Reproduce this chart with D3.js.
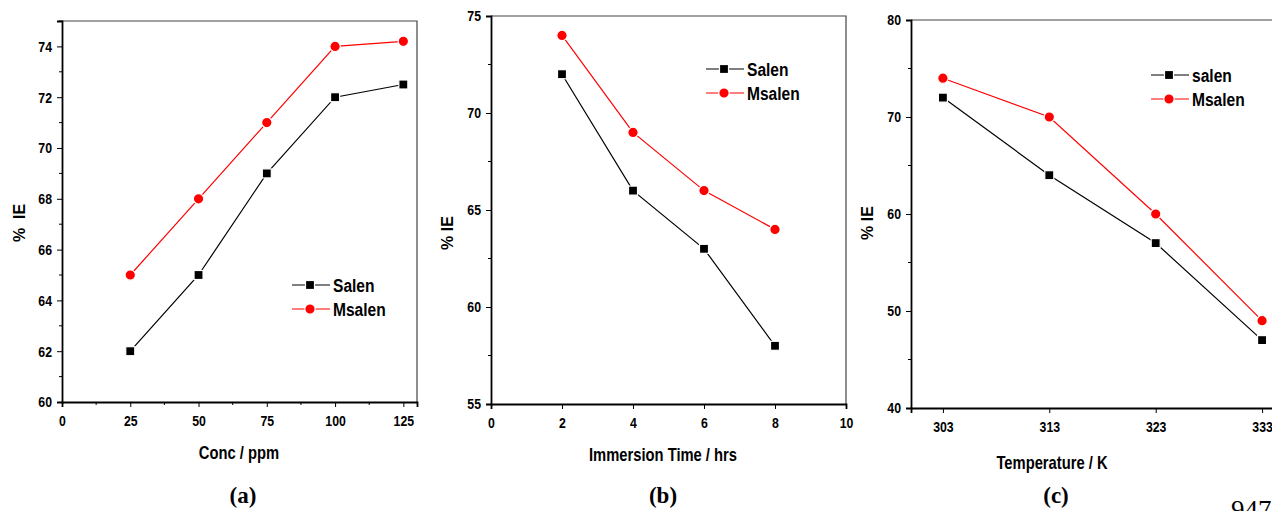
<!DOCTYPE html>
<html>
<head>
	<meta charset="utf-8">
	<title>% IE panels</title>
	<script src="https://d3js.org/d3.v7.min.js"></script>
	<style>
		body { margin: 0; background: #fff; }
		svg { display: block; }
		.narrow { font-family: "Liberation Sans", Arial, sans-serif; font-weight: bold; }
		.panel-label { font-family: "Liberation Serif", "Times New Roman", serif; font-weight: bold; }
	</style>
</head>
<body>
	<script>
		// panel (a) - concentration
		var concX = [25, 50, 75, 100, 125];
		var concSalen = [62, 65, 69, 72, 72.5];
		var concMsalen = [65, 68, 71, 74, 74.2];

		// panel (b) - immersion time
		var timeX = [2, 4, 6, 8];
		var timeSalen = [72, 66, 63, 58];
		var timeMsalen = [74, 69, 66, 64];

		// panel (c) - temperature
		var tempX = [303, 313, 323, 333];
		var tempSalen = [72, 64, 57, 47];
		var tempMsalen = [74, 70, 60, 49];

		var width = 1272, height = 511;
		var squeeze = 0.82; // no narrow font installed, so squash Liberation Sans
		var svg = d3.select("body").append("svg").attr("width", width).attr("height", height);

		var panels = [
			{x: concX, s1: concSalen, s2: concMsalen, names: ["Salen", "Msalen"],
			 xDom: [0, 130], yDom: [60, 75], left: 62, right: 417, top: 21, bottom: 402,
			 xTicks: [0, 25, 50, 75, 100, 125], xMinor: [12.5, 37.5, 62.5, 87.5, 112.5],
			 yTicks: [60, 62, 64, 66, 68, 70, 72, 74], yMinor: [61, 63, 65, 67, 69, 71, 73, 75],
			 xTitle: "Conc / ppm", yTitle: "%  IE", label: "(a)",
			 leg: [292, 285], titleX: 239, titleY: 459, yTitleX: 25, yTitleY: 223, labelX: 243},
			{x: timeX, s1: timeSalen, s2: timeMsalen, names: ["Salen", "Msalen"],
			 xDom: [0, 10], yDom: [55, 75], left: 491, right: 846, top: 16, bottom: 404,
			 xTicks: [0, 2, 4, 6, 8, 10], xMinor: [],
			 yTicks: [55, 60, 65, 70, 75], yMinor: [57.5, 62.5, 67.5, 72.5],
			 xTitle: "Immersion Time / hrs", yTitle: "% IE", label: "(b)",
			 leg: [706, 69], titleX: 663, titleY: 461, yTitleX: 453, yTitleY: 233, labelX: 663},
			{x: tempX, s1: tempSalen, s2: tempMsalen, names: ["salen", "Msalen"],
			 xDom: [300, 336], yDom: [40, 80], left: 911, right: 1294, top: 20, bottom: 408,
			 xTicks: [303, 313, 323, 333], xMinor: [],
			 yTicks: [40, 50, 60, 70, 80], yMinor: [45, 55, 65, 75],
			 xTitle: "Temperature / K", yTitle: "% IE", label: "(c)",
			 leg: [1151, 75], titleX: 1052, titleY: 469, yTitleX: 873, yTitleY: 223, labelX: 1056}
		];

		// narrow bold text at (x,y)
		function narrow(sel, x, y, size, txt) {
			return sel.append("text").attr("class", "narrow")
				.attr("transform", "translate(" + x + "," + y + ") scale(" + squeeze + ",1)")
				.style("font-size", size + "px").text(txt);
		}

		panels.forEach(function(p) {
			var x = d3.scaleLinear().domain(p.xDom).range([p.left, p.right]);
			var y = d3.scaleLinear().domain(p.yDom).range([p.bottom, p.top]);
			var g = svg.append("g");

			// frame top / right
			g.append("path")
				.attr("d", "M" + p.left + "," + p.top + "H" + p.right + "V" + p.bottom)
				.attr("fill", "none").attr("stroke", "#444").attr("stroke-width", 1.2);

			// minor ticks
			g.selectAll(".xm").data(p.xMinor).enter().append("line")
				.attr("x1", d => x(d)).attr("x2", d => x(d))
				.attr("y1", p.bottom).attr("y2", p.bottom + 3)
				.attr("stroke", "#000").attr("stroke-width", 1);
			g.selectAll(".ym").data(p.yMinor).enter().append("line")
				.attr("x1", p.left - 3).attr("x2", p.left)
				.attr("y1", d => y(d)).attr("y2", d => y(d))
				.attr("stroke", "#000").attr("stroke-width", 1);

			var xAxis = g.append("g").attr("transform", "translate(0," + p.bottom + ")")
				.call(d3.axisBottom(x).tickValues(p.xTicks).tickSize(5).tickPadding(8).tickFormat(d3.format("d")));
			var yAxis = g.append("g").attr("transform", "translate(" + p.left + ",0)")
				.call(d3.axisLeft(y).tickValues(p.yTicks).tickSize(5).tickPadding(5).tickFormat(d3.format("d")));
			[xAxis, yAxis].forEach(function(a) {
				a.select(".domain").attr("stroke-width", 1.8);
				a.selectAll("text").attr("class", "narrow").style("font-size", "15px").attr("fill", "#000")
					.attr("transform", "scale(" + squeeze + ",1)");
			});
			yAxis.selectAll("text").attr("x", -10 / squeeze);

			var line = d3.line().x(d => x(d[0])).y(d => y(d[1]));
			var series = [
				{vals: p.s1, color: "#000", shape: "square"},
				{vals: p.s2, color: "#ff0000", shape: "circle"}
			];
			series.forEach(function(s) {
				var pts = p.x.map((v, i) => [v, s.vals[i]]);
				g.append("path").datum(pts).attr("d", line)
					.attr("fill", "none").attr("stroke", s.color).attr("stroke-width", 1.2);
			});
			function marker(sel, s, cx, cy) {
				if (s.shape === "square") {
					sel.append("rect").attr("x", cx - 4.5).attr("y", cy - 4.5).attr("width", 9).attr("height", 9)
						.attr("fill", s.color).attr("stroke", "#fff").attr("stroke-width", 1.2);
				} else {
					sel.append("circle").attr("cx", cx).attr("cy", cy).attr("r", 5.2)
						.attr("fill", s.color).attr("stroke", "#fff").attr("stroke-width", 1.2);
				}
			}
			series.forEach(function(s) {
				p.x.forEach(function(v, i) { marker(g, s, x(v), y(s.vals[i])); });
			});

			// legend
			series.forEach(function(s, i) {
				var ly = p.leg[1] + i * 24;
				g.append("line").attr("x1", p.leg[0]).attr("x2", p.leg[0] + 38)
					.attr("y1", ly).attr("y2", ly).attr("stroke", s.color).attr("stroke-width", 1.2);
				marker(g, s, p.leg[0] + 18, ly);
				narrow(g, p.leg[0] + 41, ly + 7, 19, p.names[i]);
			});

			// titles
			narrow(g, p.titleX, p.titleY, 18, p.xTitle).attr("text-anchor", "middle");
			g.append("text").attr("class", "narrow")
				.attr("transform", "translate(" + p.yTitleX + "," + p.yTitleY + ") rotate(-90)")
				.attr("text-anchor", "middle").style("font-size", "16px").style("white-space", "pre").text(p.yTitle);
			g.append("text").attr("class", "panel-label").attr("x", p.labelX).attr("y", 503)
				.attr("text-anchor", "middle").style("font-size", "23px").text(p.label);
		});

		svg.append("text").attr("x", 1231).attr("y", 519)
			.style("font-family", "'Liberation Serif', 'Times New Roman', serif").style("font-size", "27px")
			.text("947");
	</script>
</body>
</html>
